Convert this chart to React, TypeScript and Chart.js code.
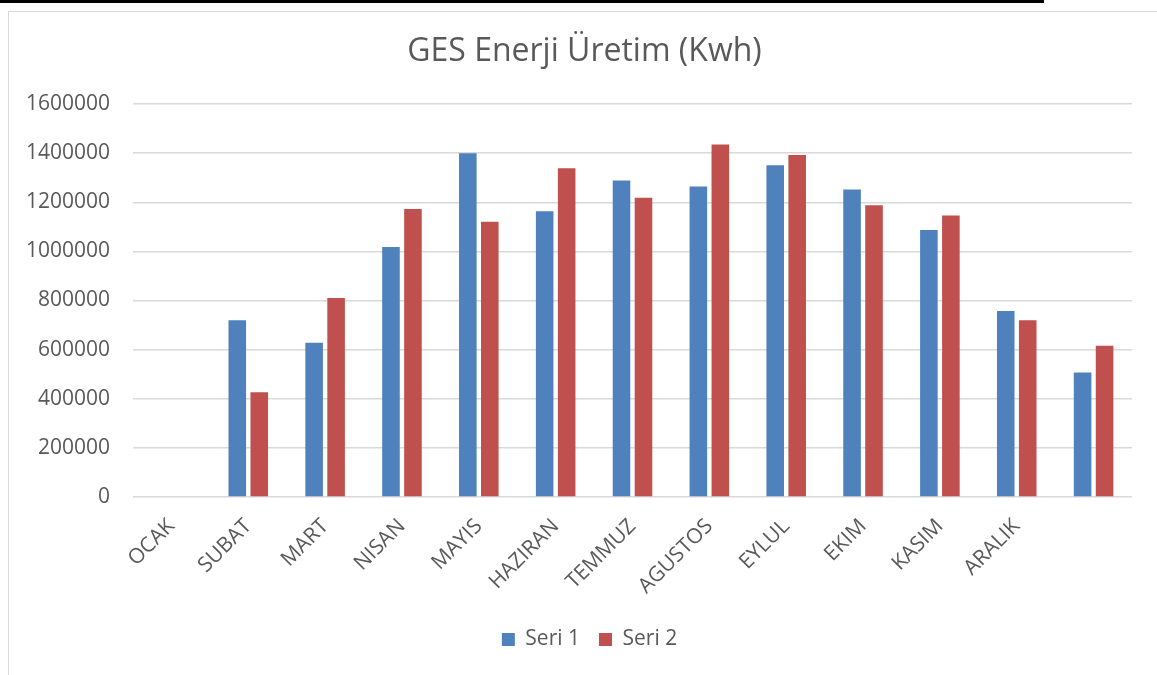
import React, { useEffect, useRef } from "react";
import { Chart, registerables } from "chart.js";

Chart.register(...registerables);

const categories = ["OCAK", "SUBAT", "MART", "NISAN", "MAYIS", "HAZIRAN", "TEMMUZ", "AGUSTOS", "EYLUL", "EKIM", "KASIM", "ARALIK", ""];
const seri1 = [null, 720000, 628000, 1018000, 1400000, 1163000, 1289000, 1264000, 1351000, 1252000, 1087000, 757000, 507000];
const seri2 = [null, 426000, 810000, 1173000, 1121000, 1338000, 1218000, 1435000, 1392000, 1188000, 1146000, 720000, 616000];
const seriesNames = ["Seri 1", "Seri 2"];
const yMin = 0;
const yMax = 1600000;
const yStep = 200000;
const titleText = "GES Enerji Üretim (Kwh)";

const FONT = "'Open Sans', sans-serif";
const TEXT = "#595959";

// shifts the centred title and legend boxes to match the reference placement
const shiftBoxes = {
  id: "shiftBoxes",
  afterLayout(chart: any) {
    if (chart.titleBlock) {
      chart.titleBlock.left += 14;
      chart.titleBlock.right += 14;
    }
    if (chart.legend) {
      chart.legend.left += 19;
      chart.legend.right += 19;
    }
  },
};

export default function App() {
  const ref = useRef<HTMLCanvasElement>(null);
  useEffect(() => {
    if (!ref.current) return;
    const chart = new Chart(ref.current, {
      type: "bar",
      data: {
        labels: categories,
        datasets: [
          {
            label: seriesNames[0],
            data: seri1,
            backgroundColor: "#4f81bd",
            categoryPercentage: 0.572,
            barPercentage: 0.8,
          },
          {
            label: seriesNames[1],
            data: seri2,
            backgroundColor: "#c0504d",
            categoryPercentage: 0.572,
            barPercentage: 0.8,
          },
        ],
      },
      options: {
        responsive: false,
        animation: false,
        layout: { padding: { left: 0, right: 25, top: 0, bottom: 15 } },
        plugins: {
          title: {
            display: true,
            text: titleText,
            color: TEXT,
            font: { family: FONT, size: 32, weight: "normal" },
            padding: { top: 21, bottom: 32.6 },
          },
          legend: {
            position: "bottom",
            labels: {
              color: TEXT,
              font: { family: FONT, size: 21 },
              boxWidth: 13,
              boxHeight: 13,
              padding: 19,
            },
          },
          tooltip: { enabled: false },
        },
        scales: {
          x: {
            grid: { display: false },
            border: { display: false },
            ticks: {
              color: TEXT,
              font: { family: FONT, size: 21 },
              minRotation: 45,
              maxRotation: 45,
              padding: 9,
              autoSkip: false,
            },
            afterFit: (scale: any) => {
              scale.height = 113;
            },
          },
          y: {
            min: yMin,
            max: yMax,
            grid: { color: "#d9d9d9", lineWidth: 1.5, drawTicks: false },
            border: { display: false },
            ticks: {
              stepSize: yStep,
              color: TEXT,
              font: { family: FONT, size: 21 },
              padding: 23,
              callback: (v: any) => String(v),
            },
            afterFit: (scale: any) => {
              scale.width = 124;
            },
          },
        },
      },
      plugins: [shiftBoxes],
    });
    return () => chart.destroy();
  }, []);

  return (
    <div>
      <div style={{ position: "fixed", left: 0, top: 0, width: 1044, height: 3, background: "#000" }} />
      <div
        style={{
          position: "fixed",
          left: 8,
          top: 11,
          width: 1149,
          height: 664,
          borderLeft: "1px solid #d9d9d9",
          borderTop: "1px solid #d9d9d9",
          boxSizing: "border-box",
          background: "#fff",
        }}
      >
        <canvas ref={ref} width={1148} height={663} style={{ display: "block" }} />
      </div>
    </div>
  );
}
